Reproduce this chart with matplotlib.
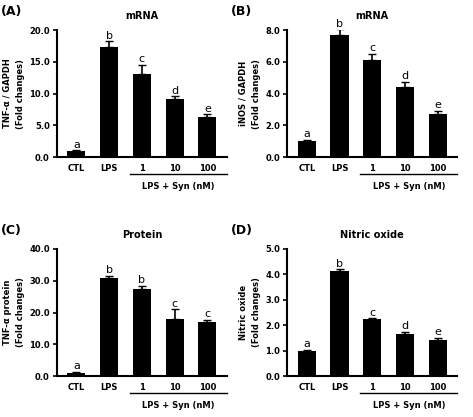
import matplotlib
matplotlib.use("Agg")
import matplotlib.pyplot as plt

cats = ["CTL", "LPS", "1", "10", "100"]
letters = ["a", "b", "c", "d", "e"]
letters_c = ["a", "b", "b", "c", "c"]
a_vals = [1.0, 17.3, 13.1, 9.2, 6.4]
a_err = [0.1, 0.9, 1.4, 0.4, 0.35]
b_vals = [1.0, 7.7, 6.1, 4.4, 2.7]
b_err = [0.1, 0.35, 0.4, 0.35, 0.2]
c_vals = [1.0, 31.0, 27.5, 18.0, 17.0]
c_err = [0.4, 0.6, 1.0, 3.0, 0.8]
d_vals = [1.0, 4.15, 2.25, 1.67, 1.42]
d_err = [0.03, 0.05, 0.03, 0.06, 0.08]

fig = plt.figure(figsize=(4.73, 4.17), dpi=100)
plt.rcParams['font.weight'] = 'bold'

panels = [
    ("(A)", "mRNA", "TNF-α / GAPDH\n(Fold changes)", a_vals, a_err, letters, 20, 5, [0.12, 0.623]),
    ("(B)", "mRNA", "iNOS / GAPDH\n(Fold changes)", b_vals, b_err, letters, 8, 2, [0.607, 0.623]),
    ("(C)", "Protein", "TNF-α protein\n(Fold changes)", c_vals, c_err, letters_c, 40, 10, [0.12, 0.098]),
    ("(D)", "Nitric oxide", "Nitric oxide\n(Fold changes)", d_vals, d_err, letters, 5, 1, [0.607, 0.098]),
]
for tag, title, ylab, vals, err, lets, ymax, step, (l, b) in panels:
    ax = fig.add_axes([l, b, 0.36, 0.305])
    x = range(len(cats))
    ax.bar(x, vals, width=0.55, color="black")
    ax.errorbar(x, vals, yerr=[[0]*5, err], fmt="none", ecolor="black", capsize=3, lw=1.2)
    for xi, v, e, t in zip(x, vals, err, lets):
        ax.text(xi, v + e + ymax*0.005, t, ha="center", va="bottom", fontsize=8, fontweight="normal")
    ax.set_ylim(0, ymax)
    ax.set_xlim(-0.6, 4.6)
    ticks = [i*step for i in range(int(ymax/step)+1)]
    ax.set_yticks(ticks)
    ax.set_yticklabels([f"{t:.1f}" for t in ticks], fontsize=6, fontweight="bold")
    ax.set_xticks(list(x))
    ax.set_xticklabels(cats, fontsize=6, fontweight="bold")
    ax.tick_params(axis="x", length=0, pad=5)
    ax.tick_params(axis="y", length=3, width=1.2, pad=2)
    for s in ["top", "right"]:
        ax.spines[s].set_visible(False)
    for s in ["left", "bottom"]:
        ax.spines[s].set_linewidth(1.5)
    ax.set_ylabel(ylab, fontsize=6, fontweight="bold", labelpad=3, linespacing=1.6)
    ax.set_title(title, fontsize=7, fontweight="bold", pad=8)
    ax.text(-0.33, 1.12, tag, transform=ax.transAxes, fontsize=9, fontweight="bold")
    ax.plot([0.43, 1.0], [-0.135, -0.135], transform=ax.transAxes, color="black", lw=1, clip_on=False)
    ax.text(0.715, -0.23, "LPS + Syn (nM)", transform=ax.transAxes, ha="center", va="center",
            fontsize=6, fontweight="bold")

fig.savefig("out.png", dpi=100)
